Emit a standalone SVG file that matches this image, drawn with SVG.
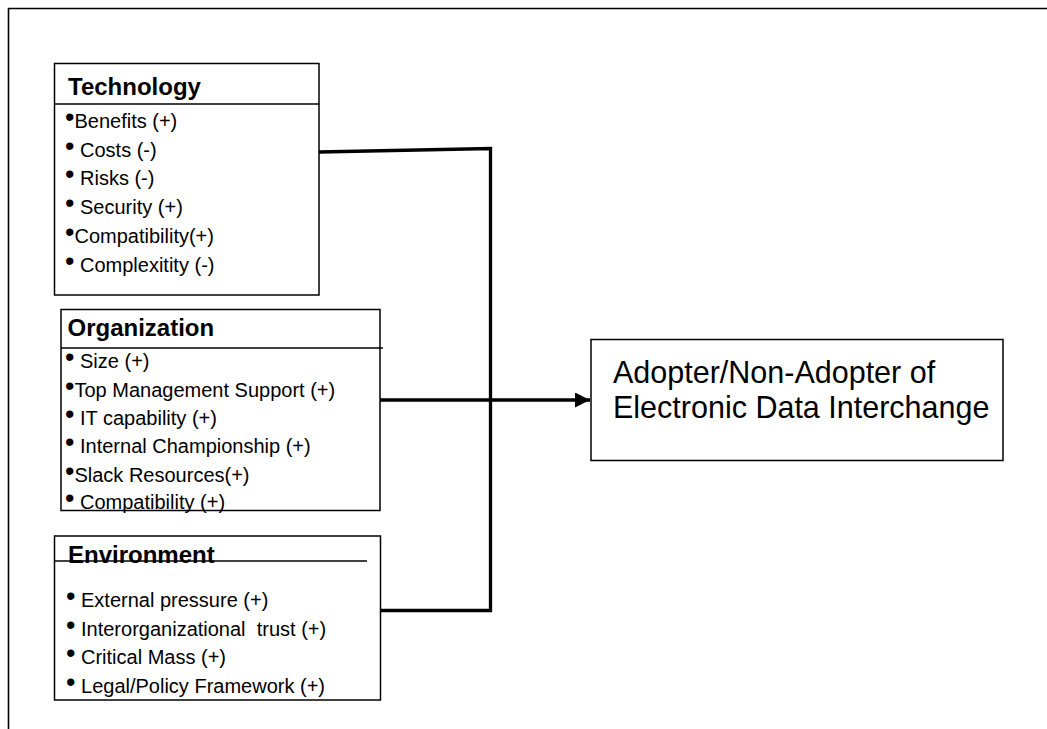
<svg xmlns="http://www.w3.org/2000/svg" width="1047" height="729" viewBox="0 0 1047 729">
<style>
.box{fill:#fff;stroke:#000;stroke-width:1.5}
.div{stroke:#000;stroke-width:1.3;fill:none}
.hd{font-family:"Liberation Sans",Arial,sans-serif;font-weight:bold;font-size:24px;fill:#000}
.it{font-family:"Liberation Sans",Arial,sans-serif;font-size:20px;fill:#000;white-space:pre}
.b{font-size:27px}
.big{font-family:"Liberation Sans",Arial,sans-serif;font-size:30.5px;fill:#000}
.conn{stroke:#000;stroke-width:3.3;fill:none}
</style>
<defs>
<marker id="arr" markerUnits="userSpaceOnUse" markerWidth="16" markerHeight="16" refX="15" refY="7.5" orient="auto">
<path d="M0,0 L15,7.5 L0,15 Z" fill="#000"/>
</marker>
</defs>
<rect width="1047" height="729" fill="#fff"/>
<path d="M8.5,729 V8.5 H1047" fill="none" stroke="#000" stroke-width="1.6"/>
<g id="connectors">
<path class="conn" d="M319,152 L490.5,148.5 V610.5 H381"/>
<path class="conn" d="M380,400 H590" marker-end="url(#arr)"/>
</g>
<g id="technology">
<rect class="box" x="54.5" y="63.5" width="264.5" height="231.5"/>
<line class="div" x1="54.5" y1="104" x2="319" y2="104"/>
<text class="hd" x="68" y="95">Technology</text>
<text class="it" x="65" y="128" xml:space="preserve"><tspan class="b" dy="-2">•</tspan><tspan dy="2">Benefits (+)</tspan></text>
<text class="it" x="65" y="157" xml:space="preserve"><tspan class="b" dy="-2">•</tspan><tspan dy="2"> Costs (-)</tspan></text>
<text class="it" x="65" y="185" xml:space="preserve"><tspan class="b" dy="-2">•</tspan><tspan dy="2"> Risks (-)</tspan></text>
<text class="it" x="65" y="214" xml:space="preserve"><tspan class="b" dy="-2">•</tspan><tspan dy="2"> Security (+)</tspan></text>
<text class="it" x="65" y="243" xml:space="preserve"><tspan class="b" dy="-2">•</tspan><tspan dy="2">Compatibility(+)</tspan></text>
<text class="it" x="65" y="272" xml:space="preserve"><tspan class="b" dy="-2">•</tspan><tspan dy="2"> Complexitity (-)</tspan></text>
</g>
<g id="organization">
<rect class="box" x="61" y="309.5" width="319" height="201"/>
<line class="div" x1="61" y1="348" x2="383" y2="348"/>
<text class="hd" x="67.5" y="336">Organization</text>
<text class="it" x="65" y="368" xml:space="preserve"><tspan class="b" dy="-2">•</tspan><tspan dy="2"> Size (+)</tspan></text>
<text class="it" x="65" y="397" xml:space="preserve"><tspan class="b" dy="-2">•</tspan><tspan dy="2">Top Management Support (+)</tspan></text>
<text class="it" x="65" y="425" xml:space="preserve"><tspan class="b" dy="-2">•</tspan><tspan dy="2"> IT capability (+)</tspan></text>
<text class="it" x="65" y="453" xml:space="preserve"><tspan class="b" dy="-2">•</tspan><tspan dy="2"> Internal Championship (+)</tspan></text>
<text class="it" x="65" y="482" xml:space="preserve"><tspan class="b" dy="-2">•</tspan><tspan dy="2">Slack Resources(+)</tspan></text>
<text class="it" x="65" y="509" xml:space="preserve"><tspan class="b" dy="-2">•</tspan><tspan dy="2"> Compatibility (+)</tspan></text>
</g>
<g id="environment">
<rect class="box" x="54.5" y="536" width="326" height="164"/>
<text class="hd" x="68" y="563">Environment</text>
<line class="div" x1="54.5" y1="561" x2="367" y2="561"/>
<text class="it" x="66" y="607" xml:space="preserve"><tspan class="b" dy="-2">•</tspan><tspan dy="2"> External pressure (+)</tspan></text>
<text class="it" x="66" y="636" xml:space="preserve"><tspan class="b" dy="-2">•</tspan><tspan dy="2"> Interorganizational  trust (+)</tspan></text>
<text class="it" x="66" y="664" xml:space="preserve"><tspan class="b" dy="-2">•</tspan><tspan dy="2"> Critical Mass (+)</tspan></text>
<text class="it" x="66" y="693" xml:space="preserve"><tspan class="b" dy="-2">•</tspan><tspan dy="2"> Legal/Policy Framework (+)</tspan></text>
</g>
<g id="adopter">
<rect class="box" x="591" y="339.5" width="412" height="121"/>
<text class="big" x="613" y="383">Adopter/Non-Adopter of</text>
<text class="big" x="613" y="418">Electronic Data Interchange</text>
</g>
</svg>
